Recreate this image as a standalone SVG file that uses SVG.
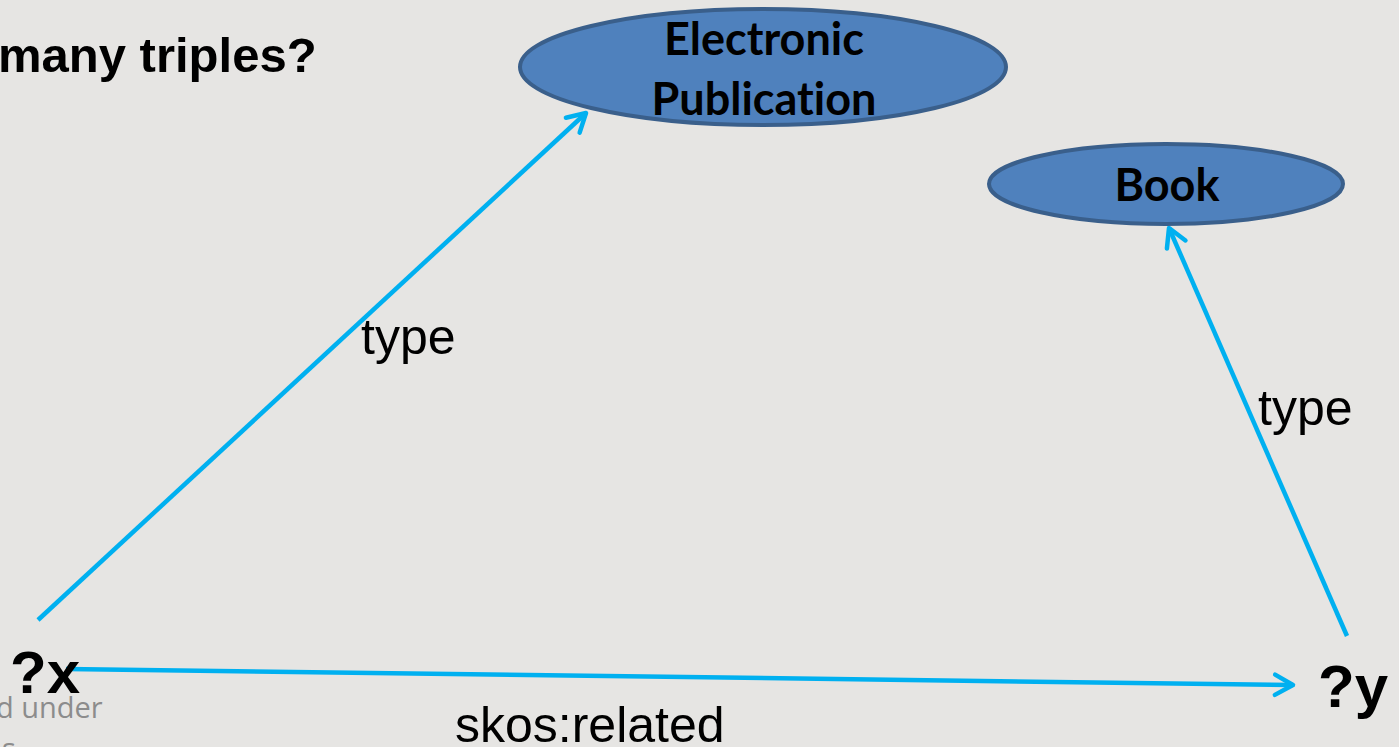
<svg xmlns="http://www.w3.org/2000/svg" width="1399" height="747" viewBox="0 0 1399 747">
  <defs>
    <style>
      .bg { fill: #e6e5e3; }
      .node { fill: #4f81bd; stroke: #3a5f8b; stroke-width: 4; }
      .node-label { font-family: Lato, "Open Sans", sans-serif; font-weight: bold; font-size: 45px; fill: #000; text-anchor: middle; font-variant-ligatures: none; }
      .edge { stroke: #00b0f0; stroke-width: 4.5; fill: none; marker-end: url(#open-arrow); }
      .edge-label { font-family: "Liberation Sans", Arial, sans-serif; font-size: 50px; fill: #000; }
      .var { font-family: "Liberation Sans", Arial, sans-serif; font-weight: bold; font-size: 60px; fill: #000; }
      .title { font-family: "Liberation Sans", Arial, sans-serif; font-weight: bold; font-size: 49px; fill: #000; }
      .footer { font-family: "Open Sans", "Liberation Sans", sans-serif; font-size: 29px; fill: #8c8c8c; }
    </style>
    <marker id="open-arrow" viewBox="0 0 12 12" refX="10" refY="6" markerWidth="6" markerHeight="6" markerUnits="strokeWidth" orient="auto">
      <path d="M2,1.5 L10,6 L2,10.5" fill="none" stroke="#00b0f0" stroke-width="2" stroke-linecap="round" stroke-linejoin="round"/>
    </marker>
  </defs>

  <rect class="bg" x="0" y="0" width="1399" height="747"/>

  <text class="title" x="-2" y="72">many triples?</text>
  <text class="footer" x="-4" y="718">d under</text>
  <text class="footer" x="2" y="759">s</text>

  <g id="connectors">
    <line class="edge" x1="38" y1="620" x2="586" y2="113"/>
    <line class="edge" x1="1347" y1="636" x2="1169" y2="228"/>
    <line class="edge" x1="66" y1="669" x2="1293" y2="685"/>
    <text class="edge-label" x="361" y="354">type</text>
    <text class="edge-label" x="1258" y="425">type</text>
    <text class="edge-label" x="455" y="742">skos:related</text>
  </g>

  <g id="node-electronic-publication">
    <ellipse class="node" cx="763" cy="67" rx="243" ry="58"/>
    <text class="node-label" x="764" y="55">Electronic</text>
    <text class="node-label" x="764" y="115">Publication</text>
  </g>

  <g id="node-book">
    <ellipse class="node" cx="1166" cy="184" rx="177" ry="40"/>
    <text class="node-label" x="1167" y="201">Book</text>
  </g>

  <g id="node-x">
    <text class="var" x="10" y="693">?x</text>
  </g>

  <g id="node-y">
    <text class="var" x="1318" y="707">?y</text>
  </g>
</svg>
